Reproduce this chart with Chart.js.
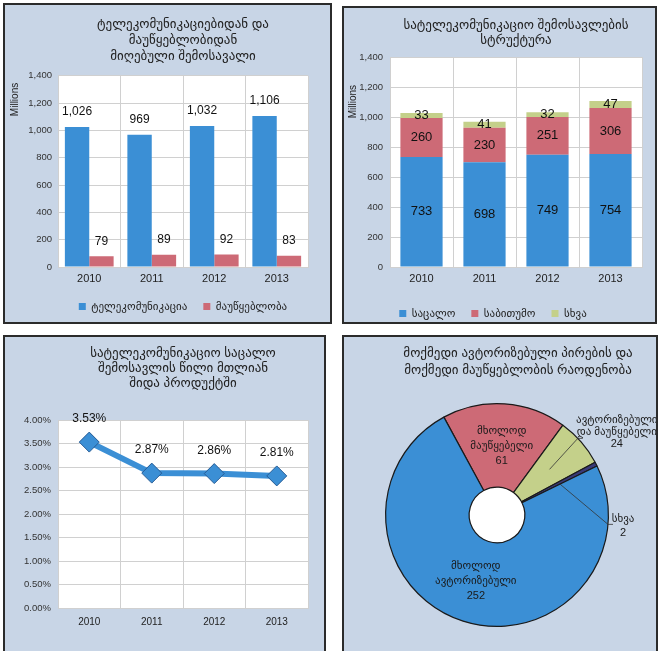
<!DOCTYPE html>
<html>
<head>
<meta charset="utf-8">
<script src="https://cdn.jsdelivr.net/npm/chart.js@4.4.0/dist/chart.umd.min.js"></script>
<style>
  html, body { margin: 0; padding: 0; background: #fff; overflow: hidden; width: 660px; height: 651px; }
  .panel { position: absolute; box-sizing: border-box; border: 2px solid #2b2b2b; background: #c8d5e6; overflow: hidden; }
  .panel canvas { position: absolute; left: 0; top: 0; }
</style>
</head>
<body>
<div class="panel" style="left:3px;top:3px;width:329px;height:321px"><canvas id="c1" width="325" height="317"></canvas></div>
<div class="panel" style="left:342px;top:6px;width:315px;height:318px"><canvas id="c2" width="311" height="321"></canvas></div>
<div class="panel" style="left:3px;top:335px;width:323px;height:330px"><canvas id="c3" width="319" height="314"></canvas></div>
<div class="panel" style="left:342px;top:335px;width:316px;height:330px"><canvas id="c4" width="312" height="314"></canvas></div>
<script>
/* colours */
let colorBlue = 'rgb(59, 143, 213)';
let colorRed = 'rgb(205, 106, 118)';
let colorGreen = 'rgb(196, 208, 138)';
let colorNavy = 'rgb(58, 58, 120)';
let gridGray = 'rgb(208, 208, 208)';
let textDark = '#222';
const FONT = '"Liberation Sans", "DejaVu Sans", sans-serif';

/* data */
const years = ['2010', '2011', '2012', '2013'];
const telecomRevenue = [1026, 969, 1032, 1106];
const broadcastRevenue = [79, 89, 92, 83];
const retailRevenue = [733, 698, 749, 754];
const wholesaleRevenue = [260, 230, 251, 306];
const otherRevenue = [33, 41, 32, 47];
const retailShareOfGdp = [3.53, 2.87, 2.86, 2.81];
const licenseeGroups = [['მხოლოდ', 'მაუწყებელი'], ['ავტორიზებული', 'და მაუწყებელი'], ['სხვა'], ['მხოლოდ', 'ავტორიზებული']];
const licenseeCounts = [61, 24, 2, 252];

Chart.defaults.font.family = FONT;
Chart.defaults.color = textDark;
Chart.defaults.animation = false;
Chart.defaults.responsive = false;
Chart.defaults.plugins.tooltip.enabled = false;

// white plot area
const plotBg = {
  id: 'plotBg',
  beforeDraw(chart) {
    const { ctx, chartArea: a } = chart;
    ctx.save();
    ctx.fillStyle = '#fff';
    ctx.fillRect(a.left, a.top, a.width, a.height);
    ctx.restore();
  }
};

// numbers on bars / points
const valueLabels = {
  id: 'valueLabels',
  afterDatasetsDraw(chart, args, opts) {
    const { ctx } = chart;
    ctx.save();
    ctx.font = opts.size + 'px ' + FONT;
    ctx.fillStyle = '#111';
    ctx.textAlign = 'center';
    ctx.textBaseline = 'middle';
    chart.data.datasets.forEach((ds, di) => {
      chart.getDatasetMeta(di).data.forEach((el, i) => {
        const y = opts.inside ? (el.y + el.base) / 2 : el.y - opts.offset;
        ctx.fillText(opts.format(ds.data[i]), el.x, y);
      });
    });
    ctx.restore();
  }
};

// "Millions" unit label, sits near the top of the value axis
const unitLabel = {
  id: 'unitLabel',
  afterDraw(chart, args, opts) {
    const { ctx, chartArea } = chart;
    ctx.save();
    ctx.font = '10px ' + FONT;
    ctx.fillStyle = textDark;
    ctx.textAlign = 'right';
    ctx.textBaseline = 'middle';
    ctx.translate(opts.x, chartArea.top + opts.drop);
    ctx.rotate(-Math.PI / 2);
    ctx.fillText(opts.text, 0, 0);
    ctx.restore();
  }
};

// free-standing title (panel 4 title is not centred on the pie)
const freeTitle = {
  id: 'freeTitle',
  afterDraw(chart, args, opts) {
    const { ctx } = chart;
    ctx.save();
    ctx.font = '13px ' + FONT;
    ctx.fillStyle = textDark;
    ctx.textAlign = 'center';
    ctx.textBaseline = 'middle';
    opts.lines.forEach((t, i) => ctx.fillText(t, opts.x, opts.y + i * opts.lineHeight));
    ctx.restore();
  }
};

// pie hole + slice labels with leader lines
const pieLabels = {
  id: 'pieLabels',
  beforeDatasetsDraw(chart) {
    const arc = chart.getDatasetMeta(0).data[0];
    const { ctx } = chart;
    ctx.save();
    ctx.fillStyle = '#fff';
    ctx.beginPath();
    ctx.arc(arc.x, arc.y, arc.innerRadius, 0, Math.PI * 2);
    ctx.fill();
    ctx.restore();
  },
  afterDatasetsDraw(chart, args, opts) {
    const { ctx } = chart;
    ctx.save();
    ctx.font = '11px ' + FONT;
    ctx.fillStyle = '#1a1a1a';
    ctx.strokeStyle = '#333';
    ctx.lineWidth = 0.8;
    ctx.textAlign = 'center';
    ctx.textBaseline = 'middle';
    chart.getDatasetMeta(0).data.forEach((arc, i) => {
      const p = arc.getProps(['x', 'y', 'startAngle', 'endAngle', 'innerRadius', 'outerRadius'], true);
      const mid = (p.startAngle + p.endAngle) / 2;
      const rm = (p.innerRadius + p.outerRadius) / 2;
      const lines = licenseeGroups[i].concat(String(licenseeCounts[i]));
      const sx = p.x + Math.cos(mid) * rm, sy = p.y + Math.sin(mid) * rm;
      const c = opts.callouts[i];
      if (!c) {
        lines.forEach((t, k) => ctx.fillText(t, sx, sy + (k - (lines.length - 1) / 2) * 15));
        return;
      }
      const ea = mid + c.turn * Math.PI / 180;
      const ex = p.x + Math.cos(ea) * p.outerRadius, ey = p.y + Math.sin(ea) * p.outerRadius;
      ctx.beginPath();
      ctx.moveTo(sx, sy);
      ctx.lineTo(ex, ey);
      ctx.lineTo(ex + c.tail, ey);
      ctx.stroke();
      lines.forEach((t, k) => ctx.fillText(t, ex + c.dx, ey + c.dy + k * c.gap));
    });
    ctx.restore();
  }
};

const thousands = v => v.toLocaleString('en-US');

function gridAxis(extra) {
  return Object.assign({
    grid: { color: gridGray, drawTicks: false, offset: true },
    border: { color: gridGray }
  }, extra);
}

/* 1: revenue from telecom and broadcasting */
new Chart(document.getElementById('c1'), {
  type: 'bar',
  data: {
    labels: years,
    datasets: [
      { label: 'ტელეკომუნიკაცია', data: telecomRevenue, backgroundColor: colorBlue },
      { label: 'მაუწყებლობა', data: broadcastRevenue, backgroundColor: colorRed }
    ]
  },
  options: {
    categoryPercentage: 0.78,
    barPercentage: 1,
    layout: { padding: { left: 0, right: 22, top: 0, bottom: 0 } },
    plugins: {
      title: {
        display: true, fullSize: false, color: textDark,
        text: ['ტელეკომუნიკაციებიდან და', 'მაუწყებლობიდან', 'მიღებული შემოსავალი'],
        font: { size: 13, weight: 'normal', lineHeight: 1.2 },
        padding: { top: 12, bottom: 12 }
      },
      legend: {
        position: 'bottom', fullSize: false,
        labels: { boxWidth: 7, boxHeight: 7, padding: 16, font: { size: 11 }, color: textDark }
      },
      valueLabels: { size: 12, offset: 15, format: thousands },
      unitLabel: { text: 'Millions', x: 10, drop: 7 }
    },
    scales: {
      x: gridAxis({ ticks: { font: { size: 11 }, color: textDark, padding: 5 }, afterFit(s) { s.height = 18; } }),
      y: gridAxis({
        min: 0, max: 1400,
        grid: { color: gridGray, drawTicks: false },
        ticks: { stepSize: 200, font: { size: 9.5 }, color: '#333', padding: 6, callback: thousands },
        afterFit(s) { s.width = 53; }
      })
    }
  },
  plugins: [plotBg, valueLabels, unitLabel]
});

/* 2: structure of telecom revenue */
new Chart(document.getElementById('c2'), {
  type: 'bar',
  data: {
    labels: years,
    datasets: [
      { label: 'საცალო', data: retailRevenue, backgroundColor: colorBlue },
      { label: 'საბითუმო', data: wholesaleRevenue, backgroundColor: colorRed },
      { label: 'სხვა', data: otherRevenue, backgroundColor: colorGreen }
    ]
  },
  options: {
    categoryPercentage: 0.67,
    barPercentage: 1,
    layout: { padding: { left: 0, right: 13, top: 0, bottom: 0 } },
    plugins: {
      title: {
        display: true, fullSize: false, color: textDark,
        text: ['სატელეკომუნიკაციო შემოსავლების', 'სტრუქტურა'],
        font: { size: 13, weight: 'normal', lineHeight: 1.15 },
        padding: { top: 9.5, bottom: 9.6 }
      },
      legend: {
        position: 'bottom',
        labels: { boxWidth: 7, boxHeight: 7, padding: 16, font: { size: 11 }, color: textDark }
      },
      valueLabels: { size: 13, inside: true, format: thousands },
      unitLabel: { text: 'Millions', x: 9, drop: 28 }
    },
    scales: {
      x: gridAxis({ stacked: true, ticks: { font: { size: 11 }, color: textDark, padding: 5 }, afterFit(s) { s.height = 25; } }),
      y: gridAxis({
        stacked: true, min: 0, max: 1400,
        grid: { color: gridGray, drawTicks: false },
        ticks: { stepSize: 200, font: { size: 9.5 }, color: '#333', padding: 7, callback: thousands },
        afterFit(s) { s.width = 46; }
      })
    }
  },
  plugins: [plotBg, valueLabels, unitLabel]
});

/* 3: retail telecom revenue share of GDP */
new Chart(document.getElementById('c3'), {
  type: 'line',
  data: {
    labels: years,
    datasets: [{
      label: 'share', data: retailShareOfGdp,
      borderColor: colorBlue, borderWidth: 6, tension: 0,
      pointStyle: 'rectRot', pointRadius: 10,
      pointBackgroundColor: colorBlue, pointBorderColor: 'rgb(38, 92, 150)', pointBorderWidth: 1
    }]
  },
  options: {
    layout: { padding: { left: 0, right: 16, top: 0, bottom: 18 } },
    plugins: {
      title: {
        display: true, fullSize: false, color: textDark,
        text: ['სატელეკომუნიკაციო საცალო', 'შემოსავლის წილი მთლიან', 'შიდა პროდუქტში'],
        font: { size: 13, weight: 'normal', lineHeight: 1.154 },
        padding: { top: 8.5, bottom: 29.5 }
      },
      legend: { display: false },
      valueLabels: { size: 12, offset: 23, format: v => v.toFixed(2) + '%' }
    },
    scales: {
      x: gridAxis({ offset: true, ticks: { font: { size: 10 }, color: textDark, padding: 8 }, afterFit(s) { s.height = 25; } }),
      y: gridAxis({
        min: 0, max: 4,
        grid: { color: gridGray, drawTicks: false },
        ticks: { stepSize: 0.5, font: { size: 9.5 }, color: '#333', padding: 7, callback: v => v.toFixed(2) + '%' },
        afterFit(s) { s.width = 53; }
      })
    }
  },
  plugins: [plotBg, valueLabels]
});

/* 4: number of active authorised persons and broadcasters */
new Chart(document.getElementById('c4'), {
  type: 'doughnut',
  data: {
    labels: licenseeGroups.map(g => g.join(' ')),
    datasets: [{
      data: licenseeCounts,
      backgroundColor: [colorRed, colorGreen, colorNavy, colorBlue],
      borderColor: '#1a1a1a', borderWidth: 1.2
    }]
  },
  options: {
    cutout: '25%',
    rotation: -28.5,
    layout: { padding: { left: 41, right: 47, top: 66, bottom: 24 } },
    plugins: {
      legend: { display: false },
      freeTitle: { lines: ['მოქმედი ავტორიზებული პირების და', 'მოქმედი მაუწყებლობის რაოდენობა'], x: 174, y: 16, lineHeight: 17 },
      pieLabels: {
        callouts: {
          1: { turn: -2.5, tail: 5, dx: 39, dy: -18, gap: 12 },
          2: { turn: 32, tail: 5, dx: 15, dy: -5, gap: 14 }
        }
      }
    }
  },
  plugins: [pieLabels, freeTitle]
});
</script>
</body>
</html>
